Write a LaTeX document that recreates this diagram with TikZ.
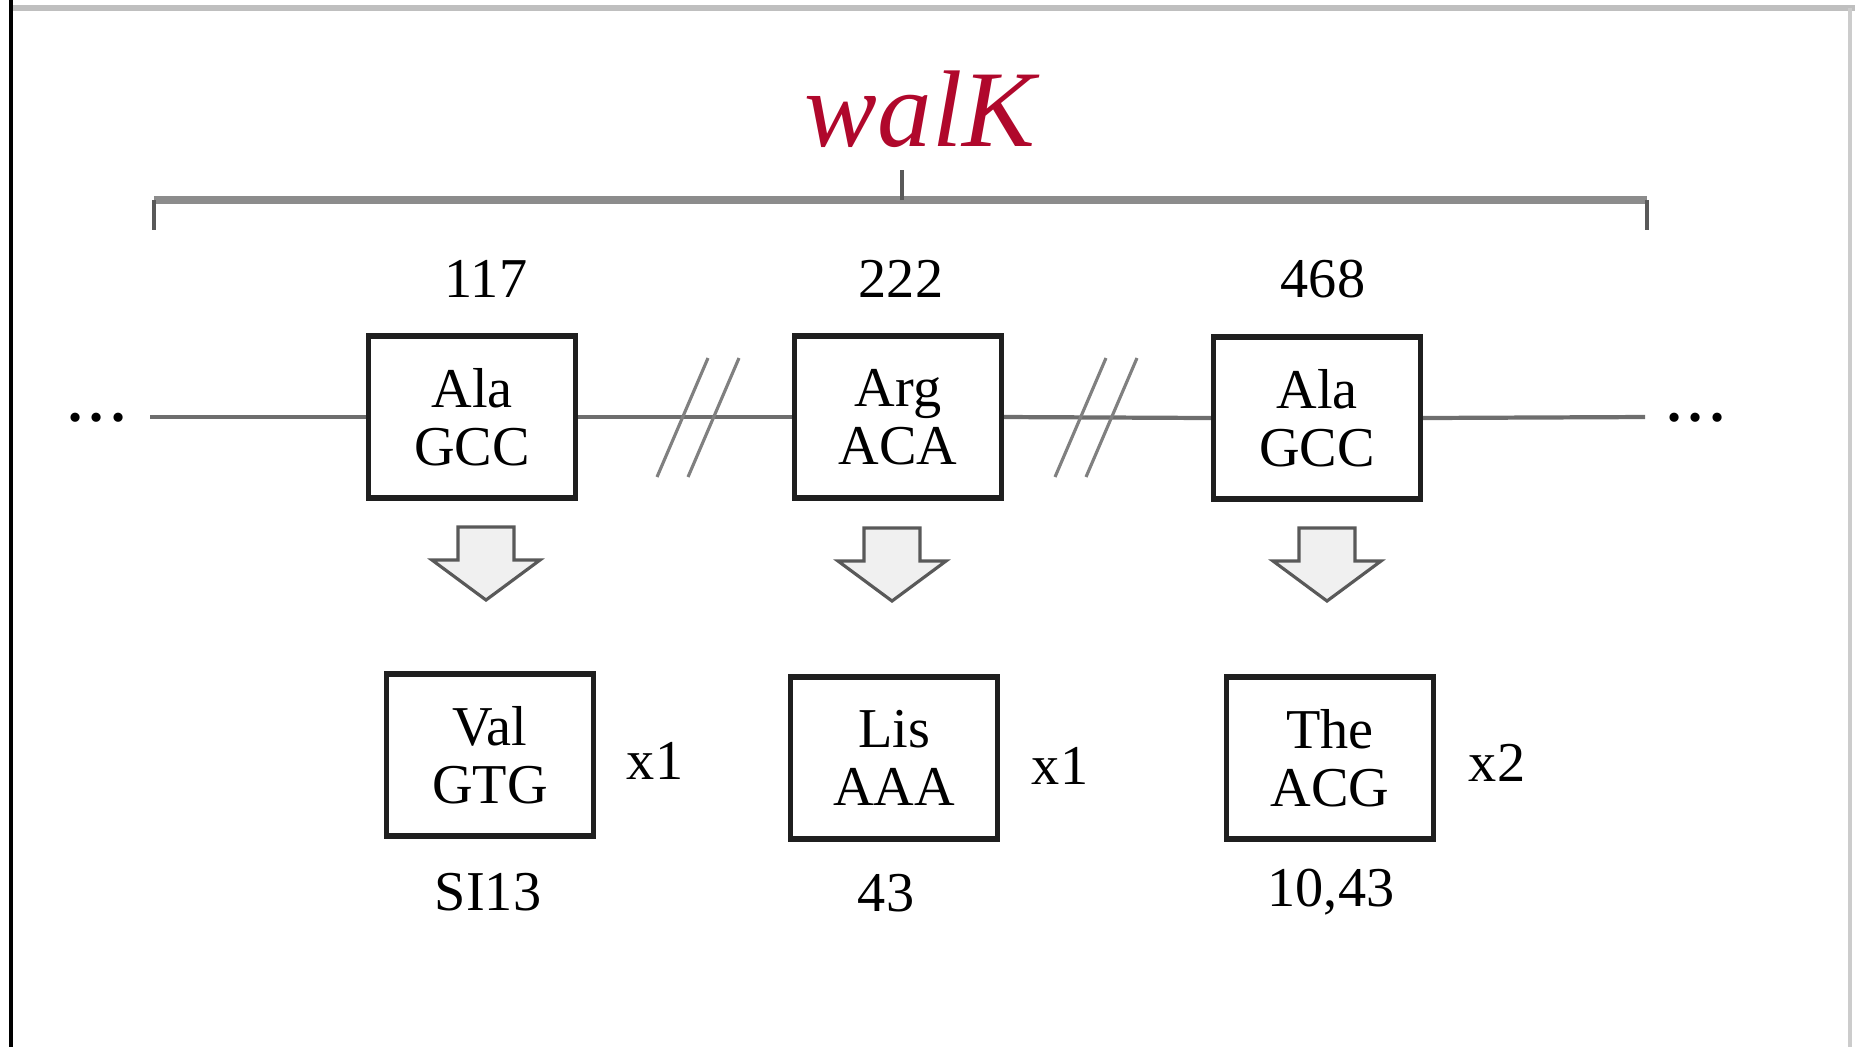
\documentclass[tikz,border=0pt]{standalone}
\usepackage{fontspec}
\setmainfont{Liberation Serif}
\definecolor{walkred}{RGB}{176,8,44}
\definecolor{linegray}{RGB}{110,110,110}
\definecolor{bracegray}{RGB}{140,140,140}
\definecolor{arrowfill}{RGB}{240,240,240}
\newcommand{\spdots}{\textbf{.\kern2.2pt.\kern2.2pt.}}
\begin{document}
\begin{tikzpicture}[x=0.01cm,y=-0.01cm,
  lab/.style={font=\fontsize{16}{16.5}\selectfont, inner sep=0pt, anchor=base},
  codon/.style={draw=black!88, line width=1.5pt, align=center,
    font=\fontsize{16}{16.5}\selectfont, inner sep=0pt,
    minimum width=2.07cm, minimum height=1.62cm},
  mainline/.style={draw=linegray, line width=1.2pt},
  slash/.style={draw=gray, line width=0.9pt},
  brace/.style={draw=bracegray, line width=2.2pt},
  tick/.style={draw=black!65, line width=0.9pt},
  blockarrow/.style={draw=black!65, fill=arrowfill, line width=0.9pt, line join=miter},
  blockdown/.pic={\path[blockarrow] (-28,0) -- (28,0) -- (28,33) -- (54,33) -- (0,73) -- (-54,33) -- (-28,33) -- cycle;}
]
\useasboundingbox (0,0) rectangle (1855,1047);
% frame
\draw[draw=black!25, line width=1.8pt] (10,8) -- (1855,8);
\draw[draw=black!20, line width=1.2pt] (1850,8) -- (1850,1047);
\draw[draw=black, line width=1.2pt] (11,0) -- (11,1047);

% title and brace
\node[font=\fontsize{31}{31}\selectfont\itshape, text=walkred, inner sep=0pt, anchor=base] (title) at (920,146) {walK};
\coordinate (bl) at (154,200);
\coordinate (br) at (1647,200);
\coordinate (bm) at (902,200);
\coordinate (blt) at (154,230);
\coordinate (brt) at (1647,230);
\coordinate (bmt) at (902,170);
\draw[brace] (bl) -- (br);
\draw[tick] (bl) -- (blt);
\draw[tick] (br) -- (brt);
\draw[tick] (bm) -- (bmt);

% positions
\node[lab] (n1) at (486,297) {117};
\node[lab] (n2) at (901,297) {222};
\node[lab] (n3) at (1323,297) {468};

% top boxes
\node[codon] (b1) at (472,417) {Ala\\GCC};
\node[codon] (b2) at (898,417) {Arg\\ACA};
\node[codon] (b3) at (1317,418) {Ala\\GCC};

% sequence line
\node[lab] (dl) at (97,421) {\spdots};
\node[lab] (dr) at (1696,421) {\spdots};
\coordinate (ls) at (150,417);
\coordinate (le) at (1645,417);
\draw[mainline] (ls) -- (b1.west);
\draw[mainline] (b1.east) -- (b2.west);
\draw[mainline] (b2.east) -- (b3.west);
\draw[mainline] (b3.east) -- (le);

% break marks
\coordinate (s1a) at (657,477); \coordinate (s1b) at (708,358);
\coordinate (s2a) at (688,477); \coordinate (s2b) at (739,358);
\coordinate (s3a) at (1055,477); \coordinate (s3b) at (1106,358);
\coordinate (s4a) at (1086,477); \coordinate (s4b) at (1137,358);
\draw[slash] (s1a) -- (s1b);
\draw[slash] (s2a) -- (s2b);
\draw[slash] (s3a) -- (s3b);
\draw[slash] (s4a) -- (s4b);

% block arrows
\pic (a1) at (486,527) {blockdown};
\pic (a2) at (892,528) {blockdown};
\pic (a3) at (1327,528) {blockdown};

% bottom boxes
\node[codon] (c1) at (490,755) {Val\\GTG};
\node[codon] (c2) at (894,758) {Lis\\AAA};
\node[codon] (c3) at (1330,758) {The\\ACG};

\node[lab] (m1) at (655,779) {x1};
\node[lab] (m2) at (1060,784) {x1};
\node[lab] (m3) at (1497,781) {x2};

\node[lab] (r1) at (488,910) {SI13};
\node[lab] (r2) at (886,911) {43};
\node[lab] (r3) at (1331,906) {10,43};
\end{tikzpicture}
\end{document}
